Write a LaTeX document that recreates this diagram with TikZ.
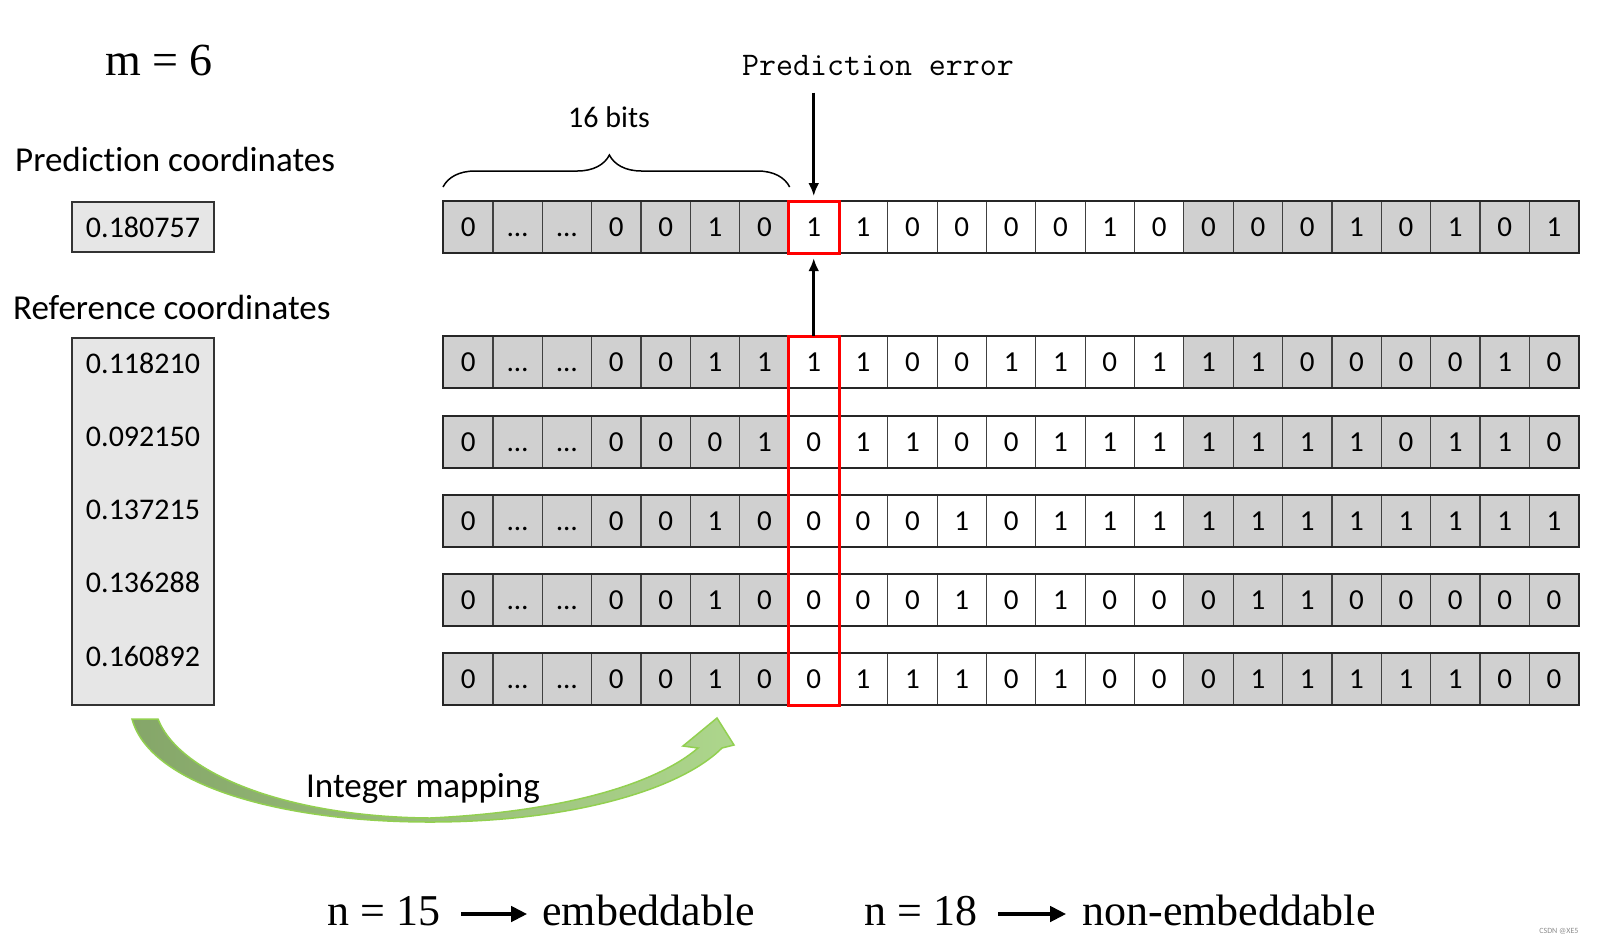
\documentclass[tikz,border=0pt]{standalone}
\usepackage{fontspec}
\setmainfont{Carlito}[Ligatures=NoCommon]
\newfontfamily\timesfont{Liberation Serif}
\usetikzlibrary{arrows.meta,decorations.pathreplacing,positioning}

\definecolor{cellgray}{RGB}{208,208,208}
\definecolor{boxgray}{RGB}{230,230,230}
\definecolor{mapdark}{RGB}{133,166,105}
\definecolor{maplight}{RGB}{173,214,140}
\definecolor{mapline}{RGB}{146,208,80}
\definecolor{errred}{RGB}{255,0,0}

\tikzset{
  bit/.style={draw=black!75, line width=1.2pt, minimum width=49.35pt, minimum height=51pt,
    inner sep=0pt, anchor=north west, font=\fontsize{29}{30}\selectfont,
    text height=18.3pt, text depth=0pt},
  rowframe/.style={draw=black!85, line width=2pt},
  redbox/.style={draw=errred, line width=3pt},
  arr/.style={line width=2.5pt, -{Latex[length=13pt,width=11pt]}},
  bigarr/.style={line width=4.5pt, -{Triangle[length=16pt,width=15pt]}},
  lbl/.style={font=\fontsize{35}{38}\selectfont, inner sep=0pt},
  valbox/.style={draw=black!80, fill=boxgray, line width=1.5pt, minimum width=142pt,
    inner sep=0pt, font=\fontsize{30}{32}\selectfont},
  serif/.style={font=\timesfont\fontsize{44}{48}\selectfont, inner sep=0pt,
    text height=22pt, text depth=0pt},
  brace/.style={decorate, decoration={brace, amplitude=32pt, aspect=0.48}, line width=1.5pt},
  maparrow/.style={left color=mapdark, right color=maplight, draw=mapline, line width=1.5pt}
}

% one row of 23 bits: name, top edge, bits
\newcommand\bitrow[3]{%
  \foreach \b [count=\i from 0] in {#3} {
    \ifnum\i<7 \def\fc{cellgray}\else\ifnum\i>14 \def\fc{cellgray}\else\def\fc{white}\fi\fi
    \node[bit, fill=\fc] (#1-\i) at ({443+\i*49.35}, #2) {\b};
  }
  \draw[rowframe] (#1-0.north west) rectangle (#1-22.south east);
}

\begin{document}
\begin{tikzpicture}[x=1pt, y=-1pt]
  \useasboundingbox (0,0) rectangle (1597,943);

  \node[font=\timesfont\fontsize{46}{50}\selectfont, inner sep=0pt, anchor=base west] (mval) at (105,75) {m = 6};

  % left column
  \node[lbl, anchor=base west] (predlbl) at (15,171) {Prediction coordinates};
  \node[valbox, minimum height=50pt] (predbox) at (143,227) {0.180757};
  \node[lbl, anchor=base west] (reflbl) at (13,319) {Reference coordinates};
  \node[valbox, minimum height=367pt] (refbox) at (143,521.5) {};
  \foreach \v [count=\k from 0] in {0.118210,0.092150,0.137215,0.136288,0.160892}
    \node[font=\fontsize{30}{32}\selectfont, inner sep=0pt, anchor=base] (ref-\k) at (143,{373+73.3*\k}) {\v};

  % bit rows
  \bitrow{p}{201}{0,\ldots,\ldots,0,0,1,0,1,1,0,0,0,0,1,0,0,0,0,1,0,1,0,1}
  \bitrow{r1}{336}{0,\ldots,\ldots,0,0,1,1,1,1,0,0,1,1,0,1,1,1,0,0,0,0,1,0}
  \bitrow{r2}{416}{0,\ldots,\ldots,0,0,0,1,0,1,1,0,0,1,1,1,1,1,1,1,0,1,1,0}
  \bitrow{r3}{495}{0,\ldots,\ldots,0,0,1,0,0,0,0,1,0,1,1,1,1,1,1,1,1,1,1,1}
  \bitrow{r4}{574}{0,\ldots,\ldots,0,0,1,0,0,0,0,1,0,1,0,0,0,1,1,0,0,0,0,0}
  \bitrow{r5}{653}{0,\ldots,\ldots,0,0,1,0,0,1,1,1,0,1,0,0,0,1,1,1,1,1,0,0}

  \draw[redbox] (p-7.north west) rectangle (p-7.south east);
  \draw[redbox] (r1-7.north west) rectangle (r5-7.south east);

  % brace and labels on top
  \draw[brace] ([yshift=14pt]p-0.north west) -- ([yshift=14pt]p-6.north east);
  \node[font=\fontsize{30}{32}\selectfont, inner sep=0pt, anchor=base] (bits) at (609,127) {16 bits};
  \node[font=\ttfamily\fontsize{33}{35}\selectfont, anchor=base] (perr) at (878,75) {Prediction error};
  \draw[arr, shorten <=14pt, shorten >=5pt] (perr.south -| p-7.north) -- (p-7.north);
  \draw[arr, shorten >=5pt] (r1-7.north) -- (p-7.south);

  % integer mapping arrow
  \shadedraw[maparrow] (132,719) .. controls (150,785) and (280,822) .. (430,822)
    .. controls (570,822) and (680,790) .. (722,748)
    -- (734,745) -- (717,718) -- (683,746) -- (698,748)
    .. controls (655,785) and (560,812) .. (430,818)
    .. controls (290,817) and (180,775) .. (158,719) -- cycle;
  \node[lbl, anchor=base] (intmap) at (423,797) {Integer mapping};

  % results
  \node[serif, anchor=base west] (n15) at (327,925) {n = 15};
  \node[serif, right=102pt of n15] (emb) {embeddable};
  \draw[bigarr, shorten <=21pt, shorten >=15pt] (n15) -- (emb);
  \node[serif, anchor=base west] (n18) at (864,925) {n = 18};
  \node[serif, right=105pt of n18] (nonemb) {non-embeddable};
  \draw[bigarr, shorten <=21pt, shorten >=16pt] (n18) -- (nonemb);

  \node[font=\fontsize{8}{9}\selectfont, text=black!45, anchor=base east] (mark) at (1582,933) {CSDN @XE5};
\end{tikzpicture}
\end{document}
